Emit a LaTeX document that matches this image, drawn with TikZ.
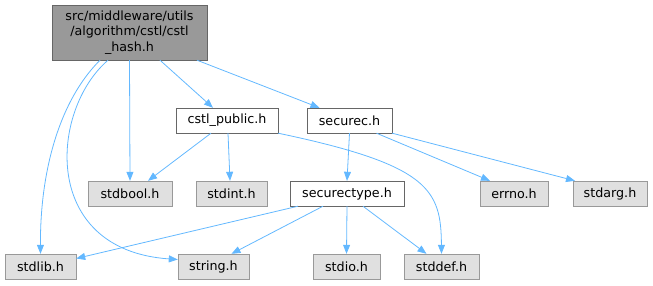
\documentclass[tikz,border=0pt]{standalone}
\usepackage{fontspec}
\setmainfont{DejaVu Sans}
\usetikzlibrary{arrows.meta}
\definecolor{edgeBlue}{HTML}{63B8FF}
\definecolor{boxGrey}{HTML}{E0E0E0}
\definecolor{rootGrey}{HTML}{999999}
\definecolor{lineGrey}{HTML}{666666}

\begin{document}
\begin{tikzpicture}[x=1pt, y=-1pt,
    every node/.style={font=\fontsize{12.7}{15.5}\selectfont, minimum height=25pt, inner xsep=3pt, inner ysep=0pt},
    sys/.style={draw=rootGrey, fill=boxGrey},
    loc/.style={draw=lineGrey, fill=white},
    dep/.style={draw=edgeBlue, line width=0.8pt, -{Triangle[length=9pt, width=7pt]}}]
  \useasboundingbox (0,0) rectangle (653,285);
  \node[loc, fill=rootGrey, minimum width=155pt, minimum height=55pt, align=center] (hash) at (129.5,32.5)
    {src/middleware/utils\\/algorithm/cstl/cstl\\\_hash.h};
  \node[loc, minimum width=102pt] (cstl) at (227,120.5) {cstl\_public.h};
  \node[loc, minimum width=85pt] (securec) at (349.5,120.5) {securec.h};
  \node[loc, minimum width=114pt] (securectype) at (347,193.5) {securectype.h};
  \foreach \id/\w/\x/\y in
    {stdbool/84/130/193.5, stdint/71/231.5/193.5, errno/68/514/193.5, stdarg/74/610/193.5,
     stdlib/71/40.5/266.5, string/71/213.5/266.5, stdio/67/346.5/266.5, stddef/75/441.5/266.5} {
    \node[sys, minimum width=\w pt] (\id) at (\x,\y) {\id.h};
  }

  % from cstl_hash.h
  \draw[dep] ([xshift=-29.5pt]hash.south) .. controls (60,100) and (40,170) .. (stdlib.north);
  \draw[dep] ([xshift=-21.5pt]hash.south) .. controls (50,110) and (40,250) .. ([yshift=7pt]string.west);
  \draw[dep] (hash.south) -- (stdbool.north);
  \draw[dep] ([xshift=30.5pt]hash.south) -- ([xshift=-14pt]cstl.north);
  \draw[dep] ([xshift=67.5pt]hash.south) -- ([xshift=-30pt]securec.north);

  % from cstl_public.h
  \draw[dep] ([xshift=-16pt]cstl.south) -- ([xshift=18pt]stdbool.north);
  \draw[dep] ([xshift=1pt]cstl.south) -- ([xshift=-1.5pt]stdint.north);
  \draw[dep] (cstl.south east) .. controls (430,165) and (441,190) .. (stddef.north);

  % from securec.h
  \draw[dep] (securec.south) -- (securectype.north);
  \draw[dep] ([xshift=27pt]securec.south) -- ([xshift=-24pt]errno.north);
  \draw[dep] (securec.south east) -- ([xshift=-35pt]stdarg.north);

  % from securectype.h
  \draw[dep] ([xshift=-49pt]securectype.south) -- ([yshift=8pt]stdlib.east);
  \draw[dep] ([xshift=-24pt]securectype.south) -- ([xshift=18pt]string.north);
  \draw[dep] (securectype.south) -- (stdio.north);
  \draw[dep] ([xshift=16pt]securectype.south) -- ([xshift=-15pt]stddef.north);
\end{tikzpicture}
\end{document}
